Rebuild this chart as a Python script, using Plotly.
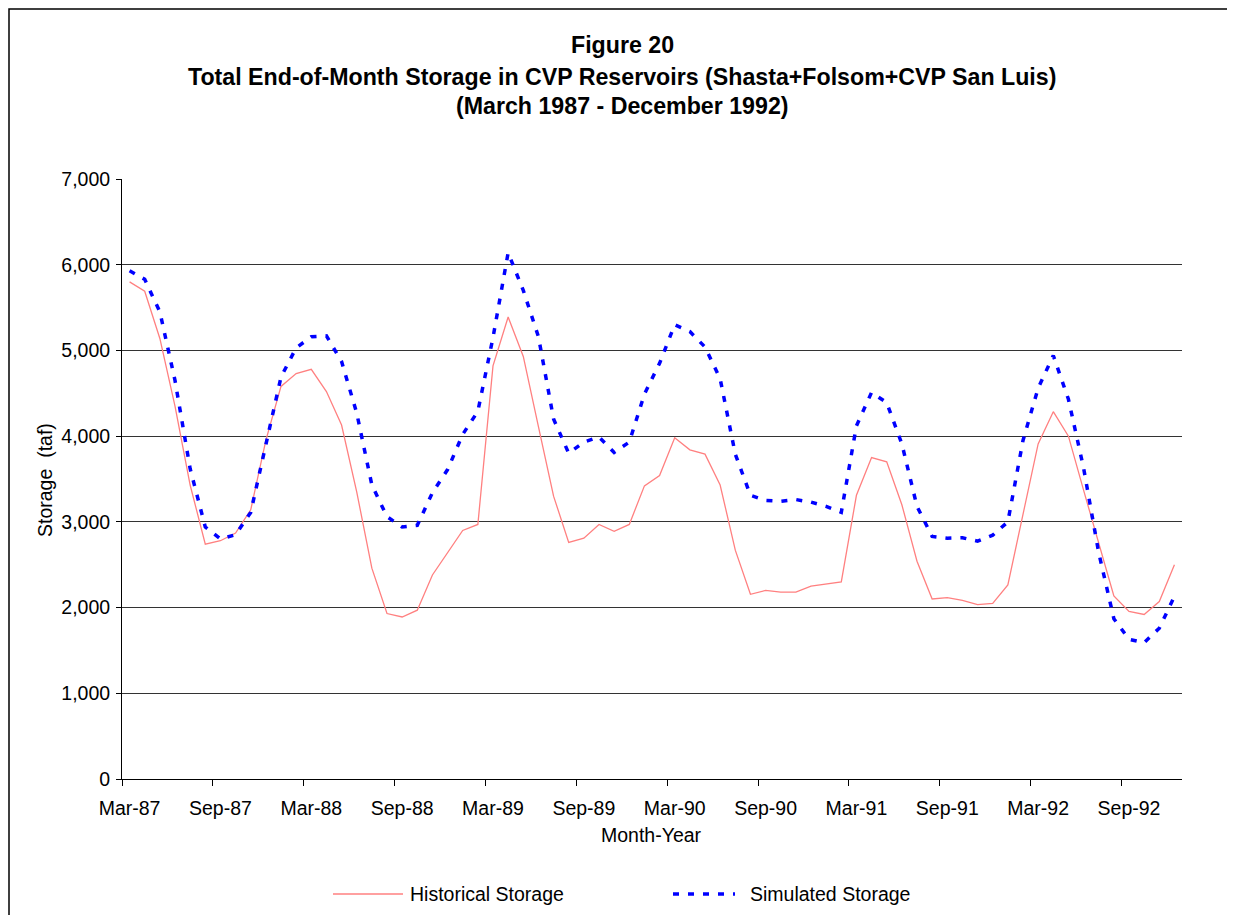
import plotly.graph_objects as go

# month-year categories, Mar-87 .. Dec-92
months = ["Jan", "Feb", "Mar", "Apr", "May", "Jun", "Jul", "Aug", "Sep", "Oct", "Nov", "Dec"]
categories = []
for yr in range(87, 93):
    for k, m in enumerate(months):
        if yr == 87 and k < 2:
            continue
        categories.append(f"{m}-{yr}")

historical = [
    5800, 5690, 5140, 4350, 3430, 2740, 2780, 2870, 3140, 3950,
    4580, 4730, 4780, 4520, 4130, 3350, 2460, 1930, 1890, 1970,
    2380, 2640, 2900, 2970, 4820, 5390, 4930, 4110, 3300, 2760,
    2810, 2970, 2890, 2970, 3420, 3540, 3980, 3840, 3790, 3430,
    2670, 2155, 2200, 2180, 2180, 2250, 2275, 2300, 3310, 3750,
    3700, 3200, 2540, 2100, 2115, 2085, 2035, 2050, 2265, 3100,
    3910, 4285, 4000, 3370, 2750, 2135, 1955, 1920, 2070, 2500,
]
simulated = [
    5930, 5830, 5450, 4650, 3620, 2940, 2800, 2850, 3110, 3900,
    4690, 5030, 5160, 5170, 4870, 4270, 3430, 3060, 2940, 2960,
    3340, 3610, 4020, 4290, 5150, 6140, 5700, 5160, 4200, 3800,
    3930, 3990, 3810, 3930, 4490, 4850, 5300, 5220, 5040, 4670,
    3790, 3310, 3250, 3240, 3260, 3230, 3180, 3110, 4120, 4510,
    4390, 3910, 3180, 2830, 2810, 2815, 2775, 2845, 3000, 3950,
    4560, 4940, 4430, 3630, 2640, 1870, 1630, 1590, 1760, 2130,
]

y_ticks = [0, 1000, 2000, 3000, 4000, 5000, 6000, 7000]
title_lines = [
    "Figure 20",
    "Total End-of-Month Storage in CVP Reservoirs (Shasta+Folsom+CVP San Luis)",
    "(March 1987 - December 1992)",
]

FONT = "Liberation Sans, Arial, sans-serif"
RED = "#ff8080"
BLUE = "#0000ff"

idx = list(range(len(categories)))
label_idx = idx[::6]

fig = go.Figure()
fig.add_trace(go.Scatter(
    x=idx, y=historical, mode="lines", name="Historical Storage",
    line=dict(color=RED, width=1.3), hoverinfo="skip",
))
fig.add_trace(go.Scatter(
    x=idx, y=simulated, mode="lines", name="Simulated Storage",
    line=dict(color=BLUE, width=3.5, dash="6px,9px"), hoverinfo="skip",
))

# page shows the figure offset by the body margin, so work in page pixels
OFF = 8
W, H = 1235 - OFF, 915 - OFF
L, R, T, B = 122 - OFF, 1235 - 1182, 179 - OFF, 915 - 779
pw, ph = W - L - R, H - T - B


def px(x):
    return (x - OFF - L) / pw


def py(y):
    return (H - B - (y - OFF)) / ph


annotations = []
for text, yc in zip(title_lines, [45, 77, 106]):
    annotations.append(dict(
        text=f"<b>{text}</b>", x=px(622), y=py(yc), xref="paper", yref="paper",
        showarrow=False, xanchor="center", yanchor="middle",
        font=dict(family=FONT, size=23.2, color="black"),
    ))
annotations.append(dict(
    text="Month-Year", x=px(651), y=py(835), xref="paper", yref="paper",
    showarrow=False, xanchor="center", yanchor="middle",
    font=dict(family=FONT, size=19.5, color="black"),
))
annotations.append(dict(
    text="Storage  (taf)", x=px(45), y=py(480), xref="paper", yref="paper",
    showarrow=False, xanchor="center", yanchor="middle", textangle=-90,
    font=dict(family=FONT, size=19.5, color="black"),
))

# legend drawn by hand so the sample lines have Excel-like length
shapes = [
    dict(type="line", xref="paper", yref="paper", x0=px(333), x1=px(403),
         y0=py(894), y1=py(894), line=dict(color=RED, width=1.5)),
    dict(type="line", xref="paper", yref="paper", x0=px(673), x1=px(735),
         y0=py(894), y1=py(894), line=dict(color=BLUE, width=3.5, dash="6px,9px")),
    dict(type="rect", xref="paper", yref="paper", x0=px(OFF + 1), x1=px(1230),
         y0=py(940), y1=py(OFF + 1), line=dict(color="black", width=1.5)),
]
annotations.append(dict(
    text="Historical Storage", x=px(408), y=py(894), xref="paper", yref="paper",
    showarrow=False, xanchor="left", yanchor="middle",
    font=dict(family=FONT, size=19.5, color="black"),
))
annotations.append(dict(
    text="Simulated Storage", x=px(748), y=py(894), xref="paper", yref="paper",
    showarrow=False, xanchor="left", yanchor="middle",
    font=dict(family=FONT, size=19.5, color="black"),
))

fig.update_layout(
    width=W, height=H,
    margin=dict(l=L, r=R, t=T, b=B),
    plot_bgcolor="white", paper_bgcolor="white",
    showlegend=False,
    font=dict(family=FONT, size=19.5, color="black"),
    annotations=annotations,
    shapes=shapes,
    xaxis=dict(
        range=[-0.5, len(categories) - 0.5],
        tickmode="array", tickvals=label_idx,
        ticktext=[categories[i] for i in label_idx],
        ticks="", showgrid=False, zeroline=False,
        showline=True, linecolor="black", linewidth=1,
        ticklabelstandoff=12,
        tickfont=dict(family=FONT, size=19.5, color="black"),
        minor=dict(tickmode="array", tickvals=[i - 0.5 for i in label_idx],
                   ticks="outside", ticklen=6, tickcolor="black", showgrid=False),
    ),
    yaxis=dict(
        range=[0, 7000], tickmode="array", tickvals=y_ticks,
        ticktext=[f"{v:,}" for v in y_ticks],
        ticks="outside", ticklen=5, tickcolor="black",
        showgrid=True, gridcolor="#333333", gridwidth=1,
        zeroline=False, showline=True, linecolor="black", linewidth=1,
        ticklabelstandoff=2,
        tickfont=dict(family=FONT, size=19.5, color="black"),
    ),
)

fig.write_html("out.html")
